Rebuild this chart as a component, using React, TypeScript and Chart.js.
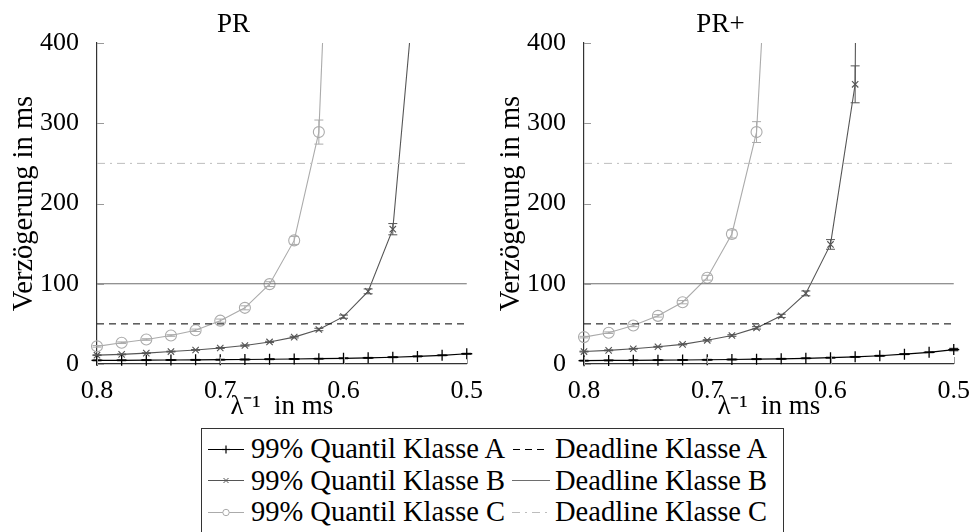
import React, { useEffect, useRef } from "react";
import { Chart, registerables } from "chart.js";

Chart.register(...registerables);

const FONT = "Liberation Serif";

// x values (λ^-1 in ms)
const xValues = [0.8, 0.78, 0.76, 0.74, 0.72, 0.7, 0.68, 0.66, 0.64, 0.62, 0.6, 0.58, 0.56, 0.54, 0.52, 0.5];

// PR
const prA = [4.5, 4.6, 4.8, 5.0, 5.2, 5.4, 5.6, 5.9, 6.2, 6.6, 7.1, 7.7, 8.4, 9.4, 10.8, 12.8];
const prB = [11, 12, 13.5, 15.5, 17.5, 20, 23, 27.5, 33.5, 43, 59, 90.5, 168, 510];
const prC = [22, 26.5, 30.5, 35.5, 42, 54, 70, 99.5, 154, 289, 1030];
const prErrA = [0.5, 0.5, 0.5, 0.5, 0.5, 0.5, 0.5, 0.5, 0.5, 0.5, 0.5, 0.5, 0.5, 0.5, 0.5, 0.5];
const prErrB = [0.5, 0.5, 0.5, 0.5, 0.5, 0.6, 0.7, 0.8, 1, 1.5, 2, 3, 7, 0];
const prErrC = [1, 1, 1, 1, 1.5, 2, 2.5, 3, 5, 15, 0];

// PR+
const ppA = [4.2, 4.4, 4.6, 4.8, 5.0, 5.3, 5.6, 6.0, 6.5, 7.1, 7.9, 8.9, 10.3, 12.2, 14.6, 18];
const ppB = [15.5, 17, 19, 21.5, 24.5, 29.5, 35.5, 45, 60, 88, 149, 348.5, 5000];
const ppC = [33.5, 39, 48, 60, 77, 107.5, 162, 289, 840];
const ppErrA = [0.5, 0.5, 0.5, 0.5, 0.5, 0.5, 0.5, 0.5, 0.5, 0.5, 0.5, 0.5, 0.5, 0.5, 0.5, 1.5];
const ppErrB = [0.5, 0.5, 0.5, 0.5, 0.6, 0.8, 1, 1.5, 2, 3, 6, 23, 0];
const ppErrC = [1, 1, 1.5, 1.5, 2, 3, 5, 13, 0];

// deadlines
const deadlineA = 50;
const deadlineB = 100;
const deadlineC = 250;

const titles = ["PR", "PR+"];
const legendSeries = ["99% Quantil Klasse A", "99% Quantil Klasse B", "99% Quantil Klasse C"];
const legendDeadlines = ["Deadline Klasse A", "Deadline Klasse B", "Deadline Klasse C"];

const colA = "#000000";
const colB = "#555555";
const colC = "#ababab";
const colDA = "#000000";
const colDB = "#6e6e6e";
const colDC = "#bdbdbd";

const errorBarPlugin = {
  id: "errorBars",
  afterDatasetsDraw(chart: any) {
    const { ctx, chartArea, scales } = chart;
    ctx.save();
    ctx.beginPath();
    ctx.rect(chartArea.left - 10, chartArea.top, chartArea.right - chartArea.left + 20, chartArea.bottom - chartArea.top + 10);
    ctx.clip();
    chart.data.datasets.forEach((ds: any) => {
      if (!ds.errors) return;
      ctx.strokeStyle = ds.borderColor;
      ctx.lineWidth = 1;
      ds.data.forEach((p: any, i: number) => {
        const e = ds.errors[i] ?? 0;
        if (!e) return;
        const px = scales.x.getPixelForValue(p.x);
        const y1 = scales.y.getPixelForValue(p.y + e);
        const y2 = scales.y.getPixelForValue(p.y - e);
        ctx.beginPath();
        ctx.moveTo(px, y1);
        ctx.lineTo(px, y2);
        ctx.moveTo(px - 4.5, y1);
        ctx.lineTo(px + 4.5, y1);
        ctx.moveTo(px - 4.5, y2);
        ctx.lineTo(px + 4.5, y2);
        ctx.stroke();
      });
    });
    ctx.restore();
  },
};

const innerTicksPlugin = {
  id: "innerTicks",
  afterDraw(chart: any) {
    const { ctx, chartArea, scales } = chart;
    ctx.save();
    ctx.strokeStyle = "#999999";
    ctx.lineWidth = 1;
    scales.y.ticks.forEach((t: any) => {
      const py = Math.round(scales.y.getPixelForValue(t.value)) + 0.5;
      ctx.beginPath();
      ctx.moveTo(chartArea.left, py);
      ctx.lineTo(chartArea.left + 7, py);
      ctx.stroke();
    });
    scales.x.ticks.forEach((t: any) => {
      const px = Math.round(scales.x.getPixelForValue(t.value)) + 0.5;
      ctx.beginPath();
      ctx.moveTo(px, chartArea.bottom);
      ctx.lineTo(px, chartArea.bottom - 7);
      ctx.stroke();
    });
    ctx.restore();
  },
};

function toPoints(vals: number[]) {
  return vals.map((v, i) => ({ x: xValues[i], y: v }));
}

function hLine(v: number) {
  return [
    { x: xValues[0], y: v },
    { x: xValues[xValues.length - 1], y: v },
  ];
}

const CLIP = { left: 10, right: 10, top: 0, bottom: 10 };

function makeConfig(title: string, a: number[], b: number[], c: number[], ea: number[], eb: number[], ec: number[]): any {
  return {
    type: "line",
    data: {
      datasets: [
        { label: legendDeadlines[0], data: hLine(deadlineA), borderColor: colDA, borderWidth: 1, borderDash: [7, 5], pointRadius: 0, clip: CLIP },
        { label: legendDeadlines[1], data: hLine(deadlineB), borderColor: colDB, borderWidth: 1.2, pointRadius: 0, clip: CLIP },
        { label: legendDeadlines[2], data: hLine(deadlineC), borderColor: colDC, borderWidth: 1, borderDash: [8, 5, 2, 5], pointRadius: 0, clip: CLIP },
        {
          label: legendSeries[0], data: toPoints(a), errors: ea, borderColor: colA, borderWidth: 1.2,
          pointStyle: "cross", pointRadius: 5.5, pointBorderColor: colA, pointBorderWidth: 1.3, clip: CLIP,
        },
        {
          label: legendSeries[1], data: toPoints(b), errors: eb, borderColor: colB, borderWidth: 1.1,
          pointStyle: "crossRot", pointRadius: 4.5, pointBorderColor: colB, pointBorderWidth: 1.1, clip: CLIP,
        },
        {
          label: legendSeries[2], data: toPoints(c), errors: ec, borderColor: colC, borderWidth: 1.1,
          pointStyle: "circle", pointRadius: 5.5, pointBorderColor: colC, pointBackgroundColor: "rgba(255,255,255,0)",
          pointBorderWidth: 1.1, clip: CLIP,
        },
      ],
    },
    options: {
      responsive: false,
      animation: false,
      devicePixelRatio: 1,
      layout: { padding: { left: 0, right: 20, top: 0, bottom: 0 } },
      plugins: {
        legend: { display: false },
        tooltip: { enabled: false },
        title: {
          display: true,
          text: title,
          color: "#000",
          font: { family: FONT, size: 27, weight: "normal", lineHeight: 1.2 },
          padding: { top: 9, bottom: 1.6 },
        },
      },
      scales: {
        x: {
          type: "linear",
          reverse: true,
          min: 0.5,
          max: 0.8,
          grid: { display: false },
          border: { display: true, color: "#333333", width: 1.2 },
          ticks: {
            stepSize: 0.1,
            autoSkip: false,
            maxRotation: 0,
            color: "#000",
            padding: 4,
            font: { family: FONT, size: 26, weight: "normal" },
            callback: (v: number) => v.toFixed(1),
          },
          title: {
            display: true,
            text: "λ⁻¹  in ms",
            color: "#000",
            font: { family: FONT, size: 27, weight: "normal", lineHeight: 1.2 },
            padding: { top: 0, bottom: 1 },
          },
          afterFit: (s: any) => {
            s.height = 60;
          },
        },
        y: {
          type: "linear",
          min: 0,
          max: 400,
          grid: { display: false },
          border: { display: true, color: "#333333", width: 1.2 },
          ticks: {
            stepSize: 100,
            color: "#000",
            padding: 10,
            font: { family: FONT, size: 26, weight: "normal" },
          },
          title: {
            display: true,
            text: "Verzögerung in ms",
            color: "#000",
            font: { family: FONT, size: 28.5, weight: "normal", lineHeight: 1.2 },
            padding: { top: 7, bottom: 0 },
          },
          afterFit: (s: any) => {
            s.width = 97;
          },
        },
      },
    },
    plugins: [errorBarPlugin, innerTicksPlugin],
  };
}

function Plot({ left, cfg }: { left: number; cfg: () => any }) {
  const ref = useRef<HTMLCanvasElement>(null);
  useEffect(() => {
    const chart = new Chart(ref.current as HTMLCanvasElement, cfg());
    return () => chart.destroy();
  }, []);
  return (
    <canvas
      ref={ref}
      width={487}
      height={424}
      style={{ position: "absolute", left, top: 0, width: 487, height: 424 }}
    />
  );
}

function Sample({ kind }: { kind: number }) {
  const w = 40;
  const cy = 6.5;
  let content: any = null;
  if (kind === 0) {
    content = (
      <g stroke={colA} strokeWidth={1.2}>
        <line x1={0} y1={cy} x2={36} y2={cy} />
        <line x1={14} y1={cy} x2={22} y2={cy} />
        <line x1={18} y1={cy - 4} x2={18} y2={cy + 4} />
      </g>
    );
  } else if (kind === 1) {
    content = (
      <g stroke={colB} strokeWidth={1}>
        <line x1={0} y1={cy} x2={36} y2={cy} />
        <line x1={15.5} y1={cy - 2.5} x2={20.5} y2={cy + 2.5} />
        <line x1={15.5} y1={cy + 2.5} x2={20.5} y2={cy - 2.5} />
      </g>
    );
  } else if (kind === 2) {
    content = (
      <g stroke={colC} strokeWidth={1}>
        <line x1={0} y1={cy} x2={36} y2={cy} />
        <circle cx={18} cy={cy} r={3.2} fill="#fff" />
      </g>
    );
  } else if (kind === 3) {
    content = <line x1={1} y1={cy} x2={34} y2={cy} stroke={colDA} strokeWidth={1} strokeDasharray="7 5" />;
  } else if (kind === 4) {
    content = <line x1={0} y1={cy} x2={38} y2={cy} stroke={colDB} strokeWidth={1.2} />;
  } else {
    content = <line x1={0} y1={cy} x2={38} y2={cy} stroke={colDC} strokeWidth={1} strokeDasharray="8 5 2 5" />;
  }
  return (
    <svg width={w} height={13} style={{ position: "absolute", left: 0, top: 9.5 }}>
      {content}
    </svg>
  );
}

function Legend() {
  const rowH = 31.5;
  const rows = [0, 1, 2];
  return (
    <div
      style={{
        position: "absolute",
        left: 201,
        top: 428,
        width: 583,
        height: 112,
        border: "1px solid #333",
        boxSizing: "border-box",
        fontFamily: FONT,
        fontSize: 28.5,
        color: "#000",
      }}
    >
      {rows.map((r) => (
        <React.Fragment key={r}>
          <div style={{ position: "absolute", left: 6, top: 4 + r * rowH, height: rowH, width: 300 }}>
            <Sample kind={r} />
            <span style={{ position: "absolute", left: 43, top: 0, lineHeight: rowH + "px", whiteSpace: "nowrap" }}>
              {legendSeries[r]}
            </span>
          </div>
          <div style={{ position: "absolute", left: 310, top: 4 + r * rowH, height: rowH, width: 270 }}>
            <Sample kind={3 + r} />
            <span style={{ position: "absolute", left: 43, top: 0, lineHeight: rowH + "px", whiteSpace: "nowrap" }}>
              {legendDeadlines[r]}
            </span>
          </div>
        </React.Fragment>
      ))}
    </div>
  );
}

export default function App() {
  return (
    <div
      style={{
        position: "fixed",
        left: 0,
        top: 0,
        width: 974,
        height: 532,
        overflow: "hidden",
        background: "#fff",
      }}
    >
      <Plot left={0} cfg={() => makeConfig(titles[0], prA, prB, prC, prErrA, prErrB, prErrC)} />
      <Plot left={487} cfg={() => makeConfig(titles[1], ppA, ppB, ppC, ppErrA, ppErrB, ppErrC)} />
      <Legend />
    </div>
  );
}
